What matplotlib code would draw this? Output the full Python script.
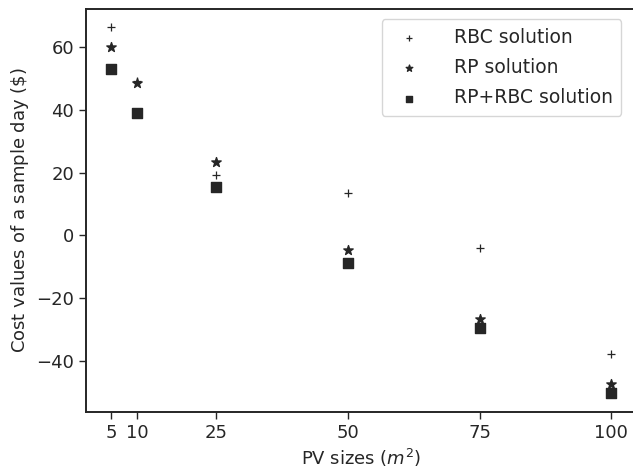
import matplotlib
matplotlib.use("Agg")
import matplotlib.pyplot as plt

# PV sizes (m^2) and cost of a sample day ($) for each strategy
pv_sizes = [5, 10, 25, 50, 75, 100]
rbc_cost = [66.4, 49.0, 19.2, 13.6, -4.1, -37.9]
rp_cost = [60.0, 48.6, 23.2, -4.7, -26.8, -47.5]
rp_rbc_cost = [53.1, 39.0, 15.5, -8.7, -29.6, -50.3]

dark = "#262626"
plt.rcParams.update({
    "font.family": "DejaVu Sans",
    "font.size": 13,
    "text.color": dark,
    "axes.labelcolor": dark,
    "axes.edgecolor": dark,
    "xtick.color": dark,
    "ytick.color": dark,
})

fig = plt.figure(figsize=(6.33, 4.69), dpi=100)
ax = fig.add_axes([0.136, 0.122, 0.869, 0.859])

ax.scatter(pv_sizes, rbc_cost, marker="+", s=40, color=dark, linewidths=0.9,
           label="RBC solution")
ax.scatter(pv_sizes, rp_cost, marker="*", s=50, color=dark,
           label="RP solution")
ax.scatter(pv_sizes, rp_rbc_cost, marker="s", s=50, color=dark,
           label="RP+RBC solution")

ax.set_xticks(pv_sizes)
ax.set_yticks([-40, -20, 0, 20, 40, 60])
ax.set_xlim(0.25, 104.75)
ax.set_ylim(-56.2, 72.1)
ax.tick_params(length=5, width=1.0, labelsize=13)
for sp in ax.spines.values():
    sp.set_linewidth(1.4)

ax.set_xlabel("PV sizes ($m^2$)", fontsize=13)
ax.set_ylabel("Cost values of a sample day ($\\$$)", fontsize=13)
ax.legend(loc="upper right", fontsize=13.5, frameon=True, borderpad=0.45,
          handletextpad=1.4, markerscale=0.7, labelspacing=0.6,
          bbox_to_anchor=(0.99, 0.997))

fig.savefig("out.png", dpi=100)
